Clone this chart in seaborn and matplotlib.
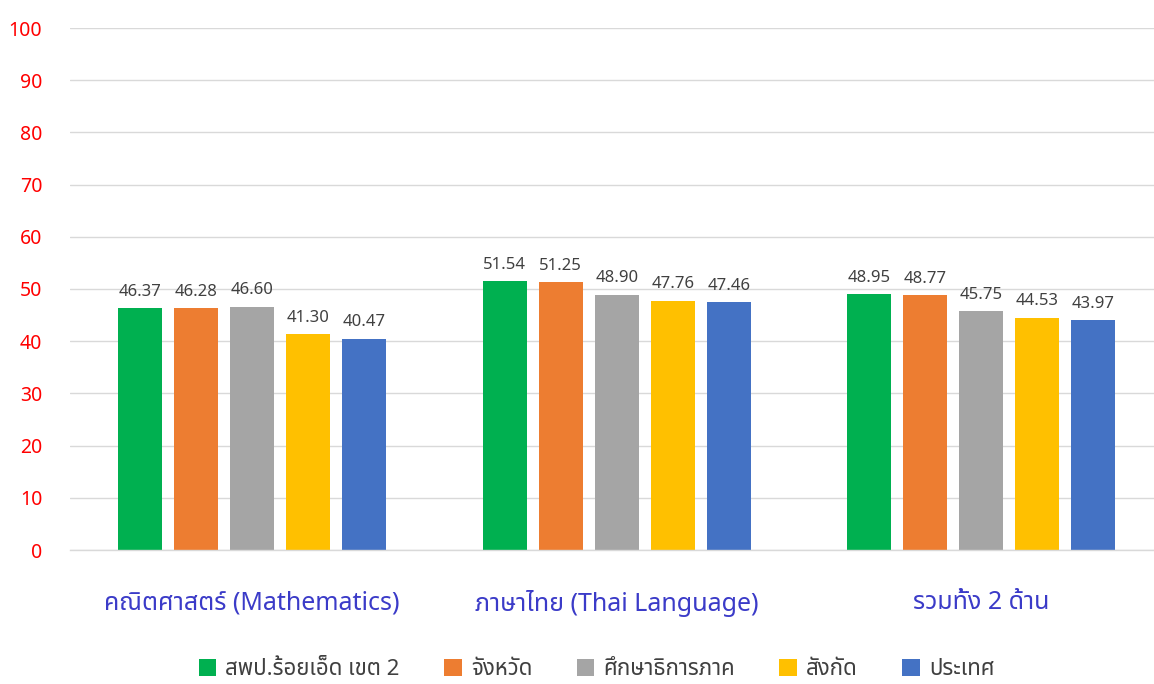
import pandas as pd
import matplotlib
matplotlib.use('Agg')
import matplotlib.pyplot as plt
from matplotlib import font_manager
from fontTools.ttLib import TTFont
import seaborn as sns

subjects = ['คณิตศาสตร์ (Mathematics)', 'ภาษาไทย (Thai Language)', 'รวมทั้ง 2 ด้าน']
series = ['สพป.ร้อยเอ็ด เขต 2', 'จังหวัด', 'ศึกษาธิการภาค', 'สังกัด', 'ประเทศ']
math_scores = [46.37, 46.28, 46.60, 41.30, 40.47]
thai_scores = [51.54, 51.25, 48.90, 47.76, 47.46]
total_scores = [48.95, 48.77, 45.75, 44.53, 43.97]
colors = ['#00B050', '#ED7D31', '#A5A5A5', '#FFC000', '#4472C4']
y_ticks = [0, 10, 20, 30, 40, 50, 60, 70, 80, 90, 100]


def find_thai_font():
    # look for an installed family that has Thai glyphs
    found = []
    for f in font_manager.fontManager.ttflist:
        try:
            font = TTFont(f.fname, fontNumber=0, lazy=True)
            cmap = font.getBestCmap() or {}
            if 0x0E04 in cmap and 0x0E31 in cmap:
                found.append(f.name)
        except Exception:
            pass
    for pref in ['Tahoma', 'Leelawadee UI', 'Noto Sans Thai', 'Noto Sans Thai UI', 'Loma', 'Garuda']:
        if pref in found:
            return pref
    return found[0] if found else 'DejaVu Sans'


rows = []
for subject, scores in zip(subjects, [math_scores, thai_scores, total_scores]):
    for name, score in zip(series, scores):
        rows.append({'subject': subject, 'series': name, 'score': score})
df = pd.DataFrame(rows)

sns.set_style('white')
thai_font = find_thai_font()
plt.rcParams['font.family'] = [thai_font, 'DejaVu Sans']

fig = plt.figure(figsize=(11.54, 6.84), dpi=100)
ax = fig.add_axes([70 / 1154, 134 / 684, 1084 / 1154, 522 / 684])

sns.barplot(data=df, x='subject', y='score', hue='series', palette=colors,
            saturation=1, width=0.768, gap=0.214, linewidth=0, legend=True, ax=ax)

for container in ax.containers:
    ax.bar_label(container, fmt='%.2f', padding=6, fontsize=12, color='#404040')

ax.set_ylim(0, 100)
ax.set_xlim(-0.5, 2.474)
ax.set_yticks(y_ticks)
ax.set_yticklabels([str(t) for t in y_ticks], color='#FF0000', fontsize=14)
ax.tick_params(axis='y', length=0, pad=20)
ax.tick_params(axis='x', length=0, pad=29, labelsize=18, labelcolor='#3B3BC8')
ax.set_xlabel('')
ax.set_ylabel('')
ax.grid(axis='y', color='#D9D9D9', linewidth=1)
ax.set_axisbelow(True)
for s in ['top', 'left', 'right']:
    ax.spines[s].set_visible(False)
ax.spines['bottom'].set_color('#D9D9D9')
ax.spines['bottom'].set_linewidth(1)

handles, labels = ax.get_legend_handles_labels()
ax.get_legend().remove()
fig.legend(handles, labels, loc='center', bbox_to_anchor=(0.517, 0.021), ncol=5,
           frameon=False, fontsize=16, labelcolor='#404040', handlelength=0.8,
           handleheight=0.8, handletextpad=0.4, columnspacing=2.0)

fig.savefig('out.png', dpi=100)
